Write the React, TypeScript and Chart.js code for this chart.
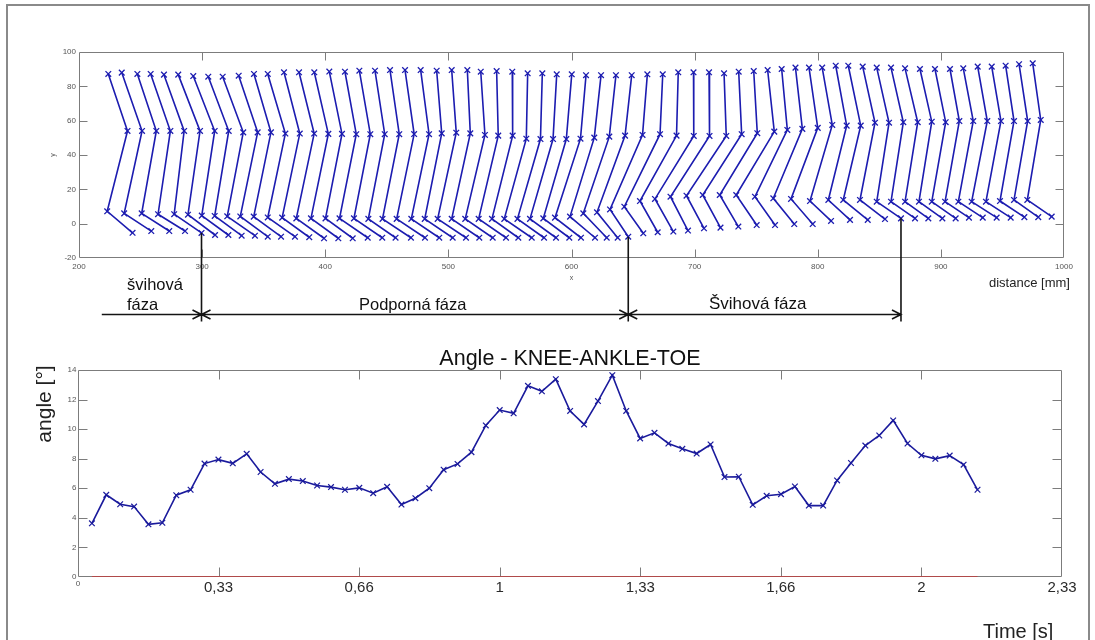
import React, { useEffect, useRef } from 'react';
import { Chart, registerables } from 'chart.js';

Chart.register(...registerables);

const FONT = '"Liberation Sans", Arial, Helvetica, sans-serif';

// ---------- Top chart: stick figures, one per frame (hip, knee, ankle, toe) ----------
const hipX = [223.8, 234.7, 247.4, 258.2, 269.0, 280.6, 292.8, 305.0, 316.7, 329.7, 342.1, 353.3, 366.5, 378.7, 391.1, 403.3, 416.0, 427.7, 440.4, 452.6, 464.8, 477.5, 490.5, 502.7, 515.4, 526.3, 539.2, 551.9, 564.4, 576.3, 588.0, 600.2, 611.8, 624.0, 636.1, 648.9, 661.6, 674.1, 686.7, 699.1, 711.7, 723.9, 735.8, 748.0, 759.3, 770.7, 781.9, 792.9, 803.6, 814.6, 824.8, 836.5, 847.9, 859.5, 870.9, 883.0, 895.2, 907.4, 918.2, 929.9, 941.3, 952.6, 963.5, 974.6];
const hipY = [87.2, 88.0, 87.2, 87.2, 86.8, 86.8, 86.0, 85.6, 85.6, 86.2, 87.2, 87.2, 88.2, 88.2, 88.2, 88.6, 88.5, 89.1, 89.1, 89.5, 89.5, 89.5, 89.1, 89.5, 89.5, 88.5, 88.9, 88.5, 87.6, 87.6, 87.0, 87.0, 86.5, 86.5, 86.5, 86.5, 87.0, 87.0, 88.2, 88.2, 88.2, 87.6, 88.5, 88.9, 89.5, 90.1, 90.9, 90.9, 90.9, 92.0, 92.0, 91.5, 90.9, 90.9, 90.5, 90.1, 90.1, 90.1, 90.5, 91.5, 91.5, 92.0, 92.9, 93.4];
const kneeX = [239.4, 251.2, 262.8, 274.2, 285.4, 298.3, 310.2, 321.6, 333.4, 345.1, 355.9, 367.6, 379.3, 391.0, 402.5, 413.6, 425.2, 436.6, 448.3, 460.1, 472.2, 484.3, 494.6, 506.4, 517.8, 529.7, 540.5, 552.2, 563.3, 574.8, 585.0, 595.8, 607.3, 618.5, 630.7, 643.5, 657.7, 671.9, 685.3, 699.3, 712.1, 725.7, 738.2, 750.9, 764.7, 775.3, 787.5, 800.0, 811.8, 823.5, 834.9, 846.5, 857.9, 869.5, 881.2, 892.6, 903.9, 915.0, 926.3, 937.7, 948.8, 959.4, 970.5, 981.1];
const kneeY = [54, 54, 54, 54, 54, 54, 54, 54, 53.2, 53.2, 53.2, 52.5, 52.5, 52.5, 52.3, 52.3, 52.1, 52.1, 52.1, 52.1, 52.2, 52.1, 52.6, 53.0, 52.6, 51.7, 51.3, 51.3, 49.5, 49.3, 49.3, 49.3, 49.5, 50.1, 50.7, 51.3, 51.7, 52.1, 51.3, 51.1, 51.1, 51.1, 52.1, 52.7, 53.6, 54.6, 55.2, 55.8, 57.5, 57.1, 57.1, 58.8, 58.8, 59.1, 59.1, 59.4, 59.1, 59.8, 59.8, 59.8, 59.8, 59.8, 59.8, 60.4];
const ankleX = [222.9, 236.7, 250.9, 264.2, 277.3, 288.5, 299.7, 310.2, 320.4, 331.0, 341.9, 353.3, 365.0, 376.5, 388.4, 400.2, 411.6, 423.3, 435.0, 446.5, 458.0, 469.9, 480.8, 491.3, 502.7, 513.7, 524.6, 535.4, 545.4, 556.1, 566.3, 577.1, 586.6, 598.8, 609.6, 620.7, 631.3, 642.9, 655.6, 667.8, 680.4, 693.4, 706.6, 720.4, 733.8, 749.0, 763.9, 778.3, 793.7, 808.6, 820.7, 834.3, 847.9, 859.5, 870.9, 882.2, 892.6, 903.4, 914.2, 925.0, 936.6, 948.0, 959.4, 970.2];
const ankleY = [7.2, 6.0, 6.0, 5.5, 5.5, 5.2, 4.7, 4.5, 4.3, 4.2, 4.1, 3.6, 3.5, 3.1, 3.1, 3.1, 3.1, 3.1, 2.8, 2.8, 2.8, 2.8, 2.8, 2.8, 2.8, 2.8, 2.8, 2.8, 2.8, 2.8, 2.8, 3.1, 3.5, 4.1, 6.0, 6.6, 8.3, 9.9, 13.2, 14.4, 15.7, 16.3, 16.7, 16.7, 16.7, 15.7, 14.8, 14.4, 13.2, 13.8, 13.8, 13.8, 12.8, 12.8, 12.8, 12.8, 12.8, 12.8, 12.8, 12.8, 12.8, 13.2, 13.8, 13.8];
const toeX = [243.5, 258.7, 273.3, 286.1, 299.5, 310.5, 321.3, 332.1, 342.9, 353.3, 364.1, 375.4, 387.0, 399.0, 410.6, 422.3, 434.5, 446.3, 457.1, 469.6, 481.0, 492.6, 503.5, 514.3, 525.1, 536.0, 546.8, 556.8, 567.7, 577.7, 587.4, 598.2, 607.7, 619.1, 628.6, 637.5, 646.1, 658.3, 670.0, 682.7, 694.6, 707.6, 721.0, 735.5, 750.4, 765.3, 780.9, 795.9, 810.8, 826.2, 840.6, 854.6, 867.6, 879.0, 889.8, 901.2, 912.0, 922.8, 934.0, 945.3, 956.7, 967.8, 979.1, 990.0];
const toeY = [-5.3, -4.3, -4.3, -4.3, -5.4, -6.6, -6.6, -7.0, -7.0, -7.6, -7.6, -7.6, -7.9, -8.5, -8.5, -8.5, -8.2, -8.2, -8.2, -8.2, -8.2, -8.2, -8.2, -8.2, -8.2, -8.2, -8.2, -8.2, -8.2, -8.2, -8.2, -8.2, -8.2, -8.2, -8.2, -8.2, -7.6, -5.6, -5.0, -4.6, -4.0, -2.7, -2.3, -1.7, -0.8, -0.8, -0.2, -0.2, 1.6, 2.2, 2.2, 2.7, 3.1, 3.1, 3.1, 3.1, 3.1, 3.5, 3.5, 3.5, 3.5, 3.8, 3.8, 4.1];

// phase boundaries: frames whose toe marks the change of phase
const phaseFrames = [5, 37, 53];
const arrowStartX = 218.5;

// ---------- Bottom chart: angle KNEE-ANKLE-TOE ----------
const timeSec = [0.033, 0.067, 0.1, 0.133, 0.167, 0.2, 0.233, 0.267, 0.3, 0.333, 0.367, 0.4, 0.433, 0.467, 0.5, 0.533, 0.567, 0.6, 0.633, 0.667, 0.7, 0.733, 0.767, 0.8, 0.833, 0.867, 0.9, 0.933, 0.967, 1.0, 1.033, 1.067, 1.1, 1.133, 1.167, 1.2, 1.233, 1.267, 1.3, 1.333, 1.367, 1.4, 1.433, 1.467, 1.5, 1.533, 1.567, 1.6, 1.633, 1.667, 1.7, 1.733, 1.767, 1.8, 1.833, 1.867, 1.9, 1.933, 1.967, 2.0, 2.033, 2.067, 2.1, 2.133];
const angleDeg = [3.63, 5.56, 4.92, 4.76, 3.56, 3.67, 5.53, 5.90, 7.67, 7.94, 7.69, 8.33, 7.10, 6.30, 6.62, 6.49, 6.19, 6.08, 5.90, 6.03, 5.67, 6.10, 4.90, 5.33, 6.01, 7.26, 7.65, 8.44, 10.25, 11.29, 11.07, 12.93, 12.56, 13.38, 11.23, 10.32, 11.90, 13.65, 11.23, 9.37, 9.75, 9.03, 8.67, 8.35, 8.96, 6.76, 6.78, 4.88, 5.49, 5.60, 6.12, 4.83, 4.83, 6.53, 7.71, 8.89, 9.57, 10.59, 9.03, 8.23, 7.99, 8.21, 7.60, 5.90];
const baselineValue = 0;
const timeTickValues = [0, 0.3333333, 0.6666667, 1, 1.3333333, 1.6666667, 2, 2.3333333];
const timeTickLabels = ['0', '0,33', '0,66', '1', '1,33', '1,66', '2', '2,33'];

const STICK = '#1c1cb0';
const SERIES = '#1a1a9c';

function boxPlugin(tickLen: number) {
  return {
    id: 'matlabBox',
    beforeDatasetsDraw(chart: any) {
      const { ctx, chartArea: a, scales } = chart;
      const xs = scales.x;
      const ys = scales.y;
      const L = Math.round(a.left) + 0.5;
      const R = Math.round(a.right) - 0.5;
      const T = Math.round(a.top) + 0.5;
      const B = Math.round(a.bottom) - 0.5;
      ctx.save();
      ctx.strokeStyle = '#7c7c7c';
      ctx.lineWidth = 1;
      ctx.beginPath();
      ctx.rect(L, T, R - L, B - T);
      xs.ticks.forEach((t: any) => {
        const p = Math.round(xs.getPixelForValue(t.value)) + 0.5;
        if (p <= L + 1 || p >= R - 1) return;
        ctx.moveTo(p, B);
        ctx.lineTo(p, B - tickLen);
        ctx.moveTo(p, T);
        ctx.lineTo(p, T + tickLen);
      });
      ys.ticks.forEach((t: any) => {
        const p = Math.round(ys.getPixelForValue(t.value)) + 0.5;
        if (p <= T + 1 || p >= B - 1) return;
        ctx.moveTo(L, p);
        ctx.lineTo(L + tickLen, p);
        ctx.moveTo(R, p);
        ctx.lineTo(R - tickLen, p);
      });
      ctx.stroke();
      ctx.restore();
    },
  };
}

const phasePlugin = {
  id: 'phaseArrows',
  afterDraw(chart: any) {
    const { ctx, chartArea, scales } = chart;
    const xs = scales.x;
    const ys = scales.y;
    const arrowY = chartArea.bottom + 56.5;
    const lineEnd = arrowY + 7;
    const px = phaseFrames.map((f) => xs.getPixelForValue(toeX[f - 1]));
    ctx.save();
    ctx.strokeStyle = '#141414';
    ctx.lineWidth = 1.6;
    ctx.beginPath();
    phaseFrames.forEach((f, i) => {
      ctx.moveTo(px[i], ys.getPixelForValue(toeY[f - 1]));
      ctx.lineTo(px[i], lineEnd);
    });
    ctx.moveTo(xs.getPixelForValue(arrowStartX), arrowY);
    ctx.lineTo(px[2], arrowY);
    const head = (tip: number, dir: number) => {
      ctx.moveTo(tip - dir * 9, arrowY - 4.5);
      ctx.lineTo(tip, arrowY);
      ctx.lineTo(tip - dir * 9, arrowY + 4.5);
    };
    head(px[0], 1);
    head(px[0], -1);
    head(px[1], 1);
    head(px[1], -1);
    head(px[2], 1);
    ctx.stroke();
    ctx.restore();
  },
};

function topConfig(): any {
  const datasets = hipX.map((_, i) => ({
    data: [
      { x: hipX[i], y: hipY[i] },
      { x: kneeX[i], y: kneeY[i] },
      { x: ankleX[i], y: ankleY[i] },
      { x: toeX[i], y: toeY[i] },
    ],
    showLine: true,
    borderColor: STICK,
    backgroundColor: STICK,
    borderWidth: 1.6,
    pointStyle: 'crossRot',
    pointRadius: 4,
    pointBorderWidth: 1.3,
    pointBorderColor: STICK,
    tension: 0,
  }));
  return {
    type: 'scatter',
    data: { datasets },
    options: {
      responsive: false,
      animation: false,
      devicePixelRatio: 1,
      events: [],
      layout: { padding: { left: 0, top: 52, right: 31, bottom: 52 } },
      plugins: { legend: { display: false }, tooltip: { enabled: false }, title: { display: false } },
      scales: {
        x: {
          type: 'linear',
          min: 200,
          max: 1000,
          ticks: {
            stepSize: 100,
            autoSkip: false,
            maxRotation: 0,
            padding: 3.9,
            color: '#555',
            font: { family: FONT, size: 8 },
            callback: (v: any) => String(v),
          },
          grid: { display: false, drawTicks: false },
          border: { display: false },
          title: { display: true, text: 'x', color: '#555', font: { family: FONT, size: 7 }, padding: { top: 0, bottom: 5.5 } },
          afterFit: (s: any) => { s.height = 30; },
        },
        y: {
          type: 'linear',
          min: -20,
          max: 100,
          ticks: { stepSize: 20, autoSkip: false, padding: 3, color: '#555', font: { family: FONT, size: 8 }, callback: (v: any) => String(v) },
          grid: { display: false, drawTicks: false },
          border: { display: false },
          title: { display: true, text: 'y', color: '#555', font: { family: FONT, size: 7 }, padding: { top: 48.8, bottom: 0 } },
          afterFit: (s: any) => { s.width = 79; },
        },
      },
    },
    plugins: [boxPlugin(8), phasePlugin],
  };
}

function bottomConfig(): any {
  return {
    type: 'scatter',
    data: {
      datasets: [
        {
          data: [
            { x: timeSec[0], y: baselineValue },
            { x: timeSec[timeSec.length - 1], y: baselineValue },
          ],
          showLine: true,
          borderColor: '#c23a3a',
          borderWidth: 1.5,
          pointRadius: 0,
        },
        {
          data: timeSec.map((t, i) => ({ x: t, y: angleDeg[i] })),
          showLine: true,
          borderColor: SERIES,
          backgroundColor: SERIES,
          borderWidth: 1.6,
          pointStyle: 'crossRot',
          pointRadius: 4,
          pointBorderWidth: 1.2,
          pointBorderColor: SERIES,
          tension: 0,
        },
      ],
    },
    options: {
      responsive: false,
      animation: false,
      devicePixelRatio: 1,
      events: [],
      layout: { padding: { left: 0, top: 0, right: 33, bottom: 33 } },
      plugins: {
        legend: { display: false },
        tooltip: { enabled: false },
        title: {
          display: true,
          text: 'Angle - KNEE-ANKLE-TOE',
          fullSize: false,
          color: '#111',
          font: { family: FONT, size: 21.5, weight: 'normal', lineHeight: 1 },
          padding: { top: 8, bottom: 0.5 },
        },
      },
      scales: {
        x: {
          type: 'linear',
          min: 0,
          max: 2.3333333,
          afterBuildTicks: (s: any) => { s.ticks = timeTickValues.map((v) => ({ value: v })); },
          ticks: {
            autoSkip: false,
            maxRotation: 0,
            padding: 2.3,
            callback: (_v: any, i: number) => timeTickLabels[i],
            color: (c: any) => (c.index === 0 ? '#555' : '#2a2a2a'),
            font: (c: any) => (c.index === 0 ? { family: FONT, size: 8 } : { family: FONT, size: 15 }),
          },
          grid: { display: false, drawTicks: false },
          border: { display: false },
          afterFit: (s: any) => { s.height = 30; },
        },
        y: {
          type: 'linear',
          min: 0,
          max: 14,
          ticks: { stepSize: 2, autoSkip: false, padding: 1.5, color: '#555', font: { family: FONT, size: 8 } },
          grid: { display: false, drawTicks: false },
          border: { display: false },
          afterFit: (s: any) => { s.width = 78; },
        },
      },
    },
    plugins: [boxPlugin(9)],
  };
}

const textBase: React.CSSProperties = { position: 'absolute', fontFamily: FONT, whiteSpace: 'nowrap', color: '#111' };

export default function App() {
  const topRef = useRef<HTMLCanvasElement>(null);
  const botRef = useRef<HTMLCanvasElement>(null);

  useEffect(() => {
    const c1 = new Chart(topRef.current as HTMLCanvasElement, topConfig());
    const c2 = new Chart(botRef.current as HTMLCanvasElement, bottomConfig());
    return () => {
      c1.destroy();
      c2.destroy();
    };
  }, []);

  return (
    <div style={{ position: 'absolute', left: 0, top: 0, width: 1095, height: 640, background: '#fff', overflow: 'hidden' }}>
      <div style={{ position: 'absolute', left: 6, top: 4, width: 1084, height: 700, border: '2px solid #8a8a8a', boxSizing: 'border-box' }} />
      <canvas ref={topRef} width={1095} height={340} style={{ position: 'absolute', left: 0, top: 0 }} />
      <canvas ref={botRef} width={1095} height={300} style={{ position: 'absolute', left: 0, top: 340 }} />
      <div style={{ ...textBase, left: 127, top: 274, fontSize: 16.5, lineHeight: '20px' }}>
        švihová
        <br />
        fáza
      </div>
      <div style={{ ...textBase, left: 359, top: 294, fontSize: 16.5, lineHeight: '20px' }}>Podporná fáza</div>
      <div style={{ ...textBase, left: 709, top: 294, fontSize: 17, lineHeight: '20px' }}>Švihová fáza</div>
      <div style={{ ...textBase, left: 989, top: 275, fontSize: 13, lineHeight: '16px', color: '#222' }}>distance [mm]</div>
      <div style={{ ...textBase, left: 983, top: 619, fontSize: 20, lineHeight: '24px', color: '#222' }}>Time [s]</div>
      <div
        style={{
          ...textBase,
          left: -6,
          top: 392,
          width: 100,
          height: 24,
          lineHeight: '24px',
          fontSize: 21,
          textAlign: 'center',
          transform: 'rotate(-90deg)',
          color: '#222',
        }}
      >
        angle [°]
      </div>
    </div>
  );
}
